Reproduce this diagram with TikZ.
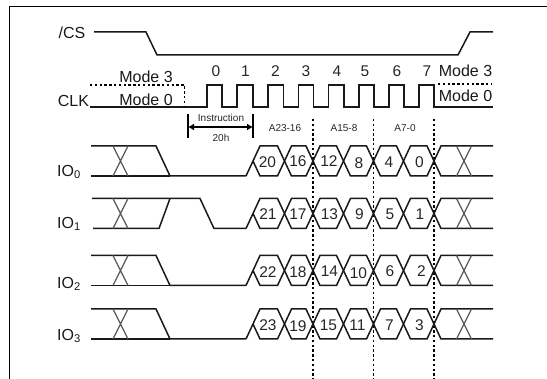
\documentclass[tikz,border=0pt]{standalone}
\usepackage{fontspec}
\setmainfont{Liberation Sans}
\usetikzlibrary{arrows.meta}
\tikzset{
  sig/.style={line width=1.5pt,line join=miter,black!90},
  xing/.style={line width=1.2pt,black!65},
  dot/.style={line width=1.5pt,dash pattern=on 2.4pt off 2.4pt},
  lab/.style={inner sep=0pt,font=\fontsize{16}{17}\selectfont,text=black!90},
  num/.style={inner sep=0pt,font=\fontsize{15.5}{17}\selectfont,text=black!85},
  tiny/.style={inner sep=0pt,font=\fontsize{10}{11}\selectfont,text=black!85}
}
\newcommand{\xmark}[3]{% x, top, bottom
  \draw[xing] (#1-7.5,#2) -- (#1+7.5,#3) (#1-7.5,#3) -- (#1+7.5,#2);}
\newcommand{\hexrow}[2]{% top, bottom
  \pgfmathsetmacro{\ymid}{(#1+#2)/2}
  \draw[sig] (246,#2) -- (260,#1) -- (277.5,#1) -- (291.5,#2) -- (306,#2) -- (320,#1) -- (336.5,#1) -- (350.5,#2) -- (366.5,#2) -- (380.5,#1) -- (396.5,#1) -- (410.5,#2) -- (427,#2) -- (441,#1) -- (493,#1);
  \draw[sig] (253,\ymid) -- (260,#2) -- (277.5,#2) -- (291.5,#1) -- (306,#1) -- (320,#2) -- (336.5,#2) -- (350.5,#1) -- (366.5,#1) -- (380.5,#2) -- (396.5,#2) -- (410.5,#1) -- (427,#1) -- (441,#2) -- (493,#2);
  \xmark{120.5}{#1}{#2}
  \xmark{464}{#1}{#2}
}
\begin{document}
\begin{tikzpicture}[x=1pt,y=-1pt]
\useasboundingbox (0,0) rectangle (547,379);
\draw[line width=1.7pt] (9.5,379) -- (9.5,6.5) -- (547,6.5);

% labels
\node[lab] (cs) at (72,33) {/CS};
\node[lab] (clk) at (73.5,101) {CLK};
\node[lab] (io0) at (69,172) {IO\textsubscript{0}};
\node[lab] (io1) at (69,224) {IO\textsubscript{1}};
\node[lab] (io2) at (69,284) {IO\textsubscript{2}};
\node[lab] (io3) at (69,336) {IO\textsubscript{3}};
\node[lab] (m3l) at (146,77) {Mode 3};
\node[lab] (m0l) at (146,100) {Mode 0};
\node[lab] (m3r) at (465.5,71) {Mode 3};
\node[lab] (m0r) at (465.5,96) {Mode 0};

% /CS
\draw[sig] (94,32) -- (146,32) -- (157,55) -- (458,55) -- (470,32) -- (493,32);

% CLK
\draw[sig] (90,107) -- (207,107) -- (207,85) -- (222,85) -- (222,107) -- (237,107) -- (237,85) -- (253,85) -- (253,107) -- (268,107) -- (268,85) -- (283.5,85) -- (283.5,107) -- (298.5,107) -- (298.5,85) -- (313.5,85) -- (313.5,107) -- (328.5,107) -- (328.5,85) -- (344,85) -- (344,107) -- (359,107) -- (359,85) -- (374,85) -- (374,107) -- (389,107) -- (389,85) -- (404,85) -- (404,107) -- (419,107) -- (419,85) -- (434,85) -- (434,107) -- (493,107);
\draw[dot,line width=1.3pt] (90,85) -- (184.5,85) -- (184.5,107);
\draw[dot,line width=1.3pt] (438,84) -- (491,84);

% clock numbers
\foreach \n/\x in {0/216,1/245.5,2/275.5,3/306,4/337,5/365,6/397,7/427}
  \node[num] (c\n) at (\x,71) {\n};

% instruction span
\coordinate (il) at (188,127);
\coordinate (ir) at (253,127);
\draw[line width=1.5pt] (188,114) -- (188,138) (253,114) -- (253,138);
\draw[line width=1.3pt,{Latex[length=6pt,width=7pt]}-{Latex[length=6pt,width=7pt]}] (il) -- (ir);
\node[tiny] (ins) at (221,118) {Instruction};
\node[tiny] (h20) at (221,137.5) {20h};
\node[tiny] (a1) at (285,128) {A23-16};
\node[tiny] (a2) at (344,128) {A15-8};
\node[tiny] (a3) at (405,128) {A7-0};

% dotted verticals
\foreach \x in {313,373.5,434}
  \draw[dot] (\x,119) -- (\x,379);

% IO0
\draw[sig] (91,146) -- (156,146) -- (170,176) -- (246,176);
\draw[sig] (91,176) -- (170,176);
\hexrow{146}{176}
% IO1
\draw[sig] (92,198.5) -- (200,198.5) -- (214,228.5) -- (246,228.5);
\draw[sig] (93,228.5) -- (159,228.5) -- (170,198.5);
\hexrow{198.5}{228.5}
% IO2
\draw[sig] (91,255.5) -- (156,255.5) -- (170,285.5) -- (246,285.5);
\draw[sig] (91,285.5) -- (170,285.5);
\hexrow{255.5}{285.5}
% IO3
\draw[sig] (91,309) -- (156,309) -- (170,339) -- (246,339);
\draw[sig] (91,339) -- (170,339);
\hexrow{309}{339}

% hexagon numbers
\foreach \n/\x/\y in {20/267.5/162,16/298/161,12/329/161,8/359/163,4/389/162,0/419.5/162,
  21/268/214,17/298/214,13/329.5/214.5,9/359.5/214,5/390/214,1/420/214,
  22/268/272,18/298/272.5,14/329.5/271.5,10/358.5/273,6/390/271.5,2/421.5/271,
  23/268/325.5,19/298/326,15/328.5/325,11/357.5/325,7/389.5/325,3/419.5/325}
  \node[num] (h\n) at (\x,\y) {\n};
\end{tikzpicture}
\end{document}
